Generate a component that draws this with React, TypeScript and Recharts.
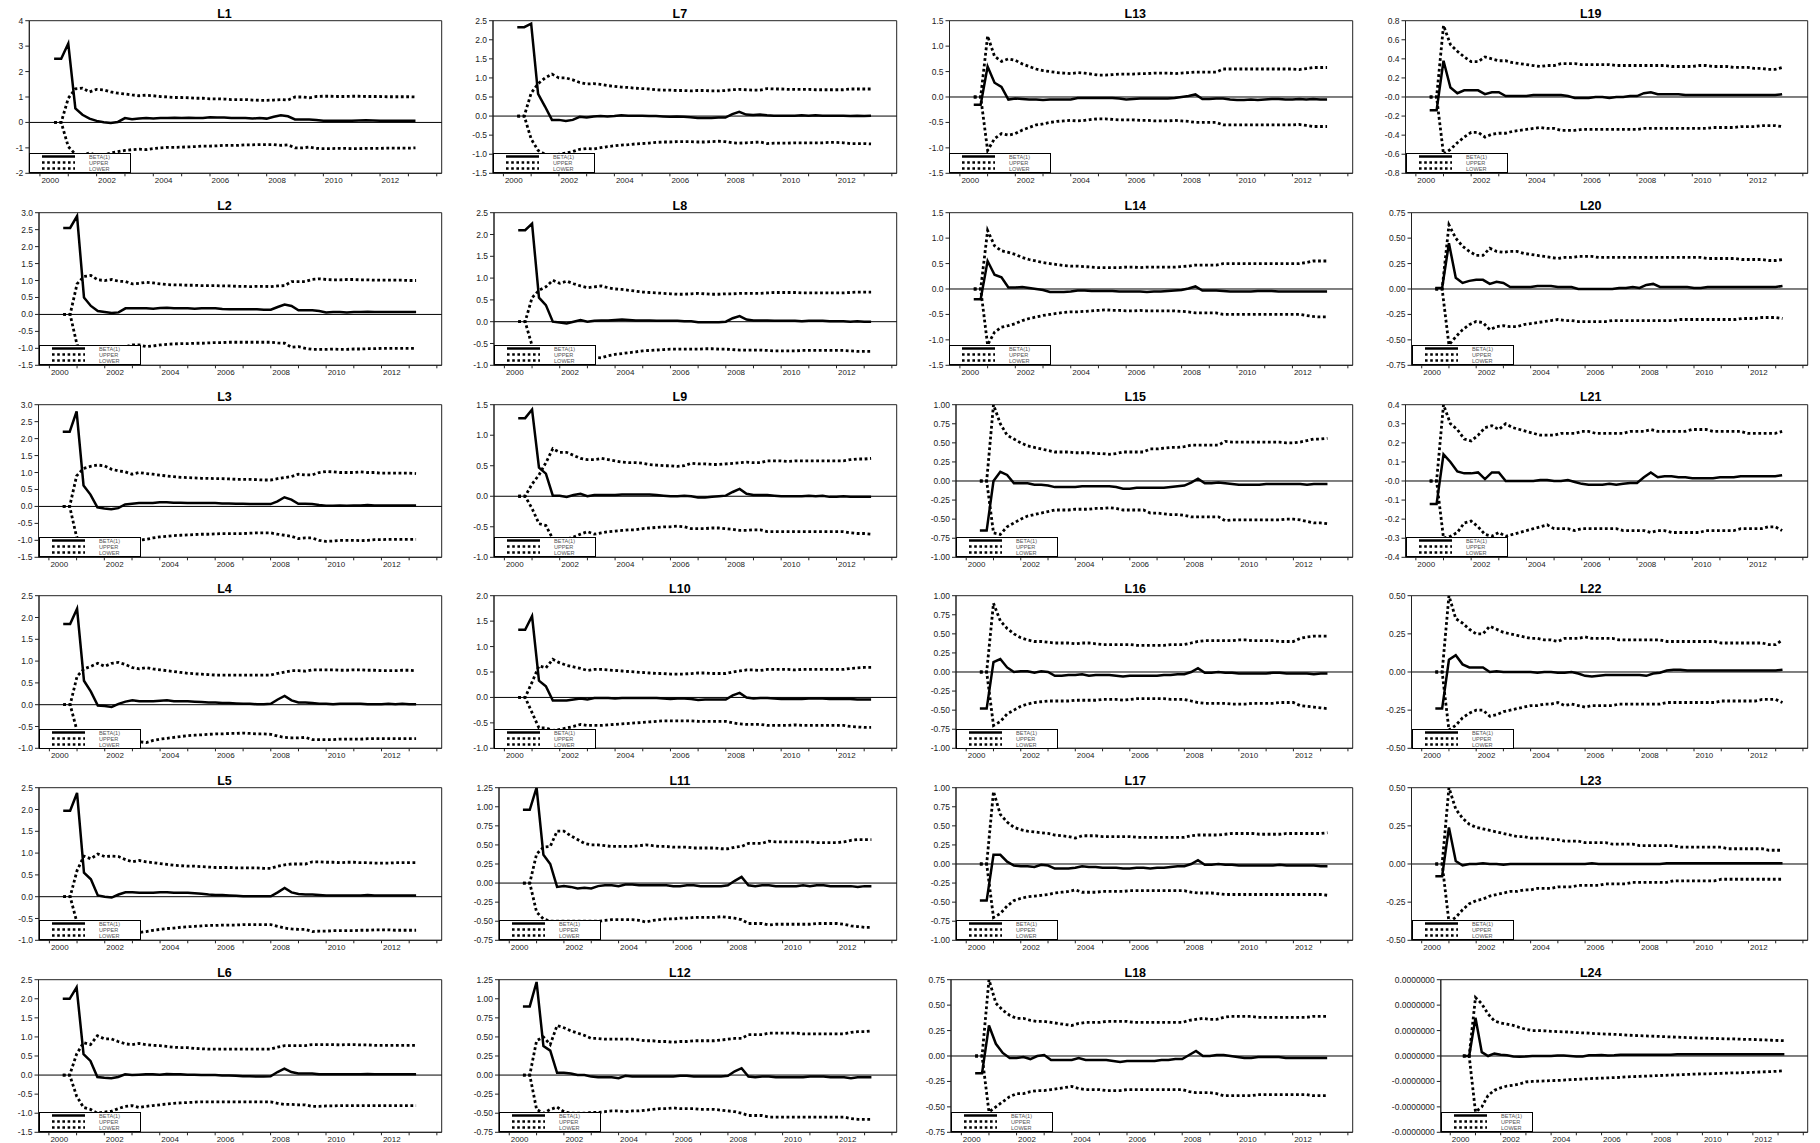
// Rolling BETA(1) estimates with UPPER / LOWER bands for 24 series (L1..L24),
// laid out 4 columns x 6 rows like the original RATS export.

import { Legend, Line, LineChart, ReferenceArea, ReferenceLine, XAxis, YAxis } from "recharts";

const FONT = "'Liberation Sans', Arial, Helvetica, sans-serif";

// quarter index 0 = first estimate; year boundaries sit two quarters before each Q1 point
const YEAR_TICKS = [-2, 2, 6, 10, 14, 18, 22, 26, 30, 34, 38, 42, 46, 50, 54];
const YEAR_LABELS = ["2000", "", "2002", "", "2004", "", "2006", "", "2008", "", "2010", "", "2012", "", ""];
const X_DOMAIN: [number, number] = [-3.5, 54.7];

const SERIES = [
  { key: "beta", name: "BETA(1)", dotted: false },
  { key: "upper", name: "UPPER", dotted: true },
  { key: "lower", name: "LOWER", dotted: true },
];

// y tick sets
const R_2_4 = [-2, -1, 0, 1, 2, 3, 4];
const R_15_30 = [-1.5, -1, -0.5, 0, 0.5, 1, 1.5, 2, 2.5, 3];
const R_10_25 = [-1, -0.5, 0, 0.5, 1, 1.5, 2, 2.5];
const R_15_25 = [-1.5, -1, -0.5, 0, 0.5, 1, 1.5, 2, 2.5];
const R_10_15 = [-1, -0.5, 0, 0.5, 1, 1.5];
const R_10_20 = [-1, -0.5, 0, 0.5, 1, 1.5, 2];
const R_075_125 = [-0.75, -0.5, -0.25, 0, 0.25, 0.5, 0.75, 1, 1.25];
const R_15_15 = [-1.5, -1, -0.5, 0, 0.5, 1, 1.5];
const R_100_100 = [-1, -0.75, -0.5, -0.25, 0, 0.25, 0.5, 0.75, 1];
const R_075_075 = [-0.75, -0.5, -0.25, 0, 0.25, 0.5, 0.75];
const R_08_08 = [-0.8, -0.6, -0.4, -0.2, 0, 0.2, 0.4, 0.6, 0.8];
const R_04_04 = [-0.4, -0.3, -0.2, -0.1, 0, 0.1, 0.2, 0.3, 0.4];
const R_050_050 = [-0.5, -0.25, 0, 0.25, 0.5];
const R_3_3 = [-3, -2, -1, 0, 1, 2, 3];

// ---- series values (52 quarters each) ----
const L1_BETA = [2.5, 2.5, 3.1, 0.55, 0.3, 0.15, 0.06, 0.01, -0.02, 0.02, 0.17, 0.13, 0.15,
  0.17, 0.15, 0.17, 0.17, 0.18, 0.17, 0.18, 0.17, 0.17, 0.2, 0.19, 0.19, 0.17,
  0.17, 0.17, 0.15, 0.17, 0.15, 0.22, 0.28, 0.24, 0.12, 0.12, 0.12, 0.1, 0.07,
  0.07, 0.07, 0.07, 0.07, 0.08, 0.09, 0.08, 0.07, 0.07, 0.07, 0.07, 0.07, 0.07];
const L1_UPPER = [0, 0, 0.95, 1.32, 1.35, 1.2, 1.3, 1.28, 1.2, 1.15, 1.12, 1.08, 1.05,
  1.07, 1.05, 1.02, 1.0, 0.98, 0.98, 0.97, 0.95, 0.95, 0.93, 0.93, 0.92, 0.9,
  0.9, 0.9, 0.88, 0.87, 0.87, 0.88, 0.9, 0.88, 1.0, 1.0, 0.97, 1.02, 1.03,
  1.03, 1.02, 1.02, 1.03, 1.03, 1.02, 1.02, 1.02, 1.01, 1.01, 1.01, 1.01, 1.0];
const L1_LOWER = [0, 0, -0.95, -1.25, -1.3, -1.2, -1.3, -1.28, -1.2, -1.15, -1.1, -1.07, -1.05,
  -1.07, -1.03, -1.0, -0.98, -0.98, -0.97, -0.96, -0.95, -0.93, -0.93, -0.92, -0.9, -0.9,
  -0.9, -0.88, -0.88, -0.87, -0.87, -0.87, -0.9, -0.88, -1.0, -1.0, -0.97, -1.02, -1.03,
  -1.03, -1.02, -1.02, -1.03, -1.03, -1.02, -1.02, -1.02, -1.01, -1.01, -1.01, -1.01, -1.0];

const L2_BETA = [2.55, 2.55, 2.9, 0.5, 0.25, 0.1, 0.07, 0.04, 0.06, 0.18, 0.18, 0.18, 0.18,
  0.17, 0.19, 0.2, 0.18, 0.18, 0.18, 0.17, 0.18, 0.18, 0.18, 0.16, 0.15, 0.15,
  0.15, 0.15, 0.15, 0.14, 0.14, 0.22, 0.29, 0.25, 0.12, 0.12, 0.12, 0.1, 0.06,
  0.07, 0.07, 0.06, 0.07, 0.07, 0.08, 0.07, 0.07, 0.07, 0.07, 0.07, 0.07, 0.07];
const L2_UPPER = [0, 0, 0.9, 1.12, 1.15, 1.02, 1.0, 1.03, 0.98, 0.97, 0.9, 0.92, 0.95,
  0.93, 0.9, 0.88, 0.87, 0.87, 0.86, 0.86, 0.85, 0.85, 0.85, 0.84, 0.84, 0.83,
  0.83, 0.82, 0.83, 0.83, 0.82, 0.84, 0.85, 0.97, 0.97, 0.97, 1.03, 1.05, 1.03,
  1.02, 1.02, 1.03, 1.03, 1.02, 1.02, 1.01, 1.01, 1.01, 1.01, 1.01, 1.0, 1.0];
const L2_LOWER = [0, 0, -0.9, -1.1, -1.1, -1.0, -1.0, -1.0, -0.97, -0.95, -0.9, -0.9, -0.95,
  -0.93, -0.9, -0.88, -0.87, -0.86, -0.86, -0.85, -0.85, -0.84, -0.83, -0.83, -0.82, -0.82,
  -0.82, -0.82, -0.82, -0.82, -0.82, -0.84, -0.85, -0.97, -0.95, -1.0, -1.03, -1.03, -1.03,
  -1.02, -1.03, -1.03, -1.02, -1.02, -1.01, -1.01, -1.0, -1.0, -1.0, -1.0, -1.0, -1.0];

const L3_BETA = [2.2, 2.2, 2.8, 0.62, 0.35, -0.03, -0.06, -0.08, -0.05, 0.06, 0.08, 0.1, 0.1,
  0.1, 0.12, 0.12, 0.11, 0.11, 0.1, 0.1, 0.1, 0.1, 0.1, 0.09, 0.09, 0.08,
  0.08, 0.07, 0.07, 0.07, 0.07, 0.15, 0.27, 0.2, 0.08, 0.08, 0.07, 0.04, 0.02,
  0.02, 0.03, 0.02, 0.03, 0.03, 0.04, 0.03, 0.03, 0.03, 0.03, 0.03, 0.03, 0.03];
const L3_UPPER = [0, 0, 0.9, 1.12, 1.18, 1.22, 1.2, 1.1, 1.05, 1.02, 0.95, 1.0, 0.97,
  0.95, 0.92, 0.9, 0.88, 0.86, 0.85, 0.84, 0.83, 0.83, 0.82, 0.82, 0.81, 0.8,
  0.8, 0.8, 0.79, 0.78, 0.78, 0.82, 0.85, 0.88, 0.95, 0.93, 0.93, 1.0, 1.03,
  1.02, 1.0, 1.0, 1.0, 1.02, 1.0, 1.0, 0.98, 0.98, 0.98, 0.98, 0.98, 0.97];
const L3_LOWER = [0, 0, -0.9, -1.1, -1.15, -1.2, -1.15, -1.1, -1.05, -1.0, -0.95, -1.0, -0.97,
  -0.93, -0.9, -0.88, -0.86, -0.85, -0.84, -0.83, -0.82, -0.82, -0.81, -0.8, -0.8, -0.8,
  -0.8, -0.79, -0.78, -0.78, -0.78, -0.82, -0.85, -0.88, -0.95, -0.93, -0.93, -1.0, -1.03,
  -1.02, -1.0, -1.0, -1.0, -1.01, -1.0, -0.98, -0.98, -0.97, -0.97, -0.97, -0.97, -0.97];

const L4_BETA = [1.85, 1.85, 2.2, 0.55, 0.3, -0.02, -0.03, -0.05, 0.02, 0.07, 0.1, 0.08, 0.08,
  0.08, 0.09, 0.1, 0.08, 0.08, 0.08, 0.07, 0.06, 0.05, 0.05, 0.04, 0.04, 0.03,
  0.02, 0.02, 0.01, 0.01, 0.02, 0.12, 0.2, 0.1, 0.05, 0.05, 0.04, 0.02, 0.02,
  0.01, 0.02, 0.02, 0.02, 0.02, 0.01, 0.01, 0.01, 0.02, 0.01, 0.02, 0.01, 0.01];
const L4_UPPER = [0, 0, 0.65, 0.82, 0.88, 0.95, 0.88, 0.95, 0.97, 0.92, 0.85, 0.82, 0.85,
  0.82, 0.8, 0.78, 0.76, 0.74, 0.72, 0.71, 0.7, 0.69, 0.68, 0.68, 0.68, 0.68,
  0.68, 0.68, 0.68, 0.68, 0.68, 0.72, 0.75, 0.78, 0.78, 0.77, 0.8, 0.8, 0.8,
  0.8, 0.79, 0.79, 0.8, 0.8, 0.79, 0.79, 0.78, 0.78, 0.78, 0.79, 0.79, 0.78];
const L4_LOWER = [0, 0, -0.6, -0.8, -0.85, -0.9, -0.88, -0.9, -0.9, -0.9, -0.87, -0.85, -0.87,
  -0.82, -0.79, -0.77, -0.75, -0.73, -0.71, -0.7, -0.69, -0.68, -0.67, -0.67, -0.66, -0.66,
  -0.65, -0.66, -0.67, -0.67, -0.68, -0.72, -0.75, -0.76, -0.76, -0.75, -0.8, -0.8, -0.8,
  -0.8, -0.79, -0.79, -0.79, -0.79, -0.78, -0.78, -0.78, -0.78, -0.78, -0.78, -0.78, -0.78];

const L5_BETA = [1.97, 1.97, 2.38, 0.55, 0.4, 0.03, 0.0, -0.02, 0.05, 0.1, 0.1, 0.09, 0.09,
  0.09, 0.1, 0.1, 0.09, 0.09, 0.09, 0.08, 0.07, 0.05, 0.04, 0.04, 0.03, 0.02,
  0.01, 0.01, 0.01, 0.01, 0.01, 0.1, 0.2, 0.1, 0.06, 0.05, 0.05, 0.04, 0.03,
  0.03, 0.03, 0.03, 0.03, 0.03, 0.04, 0.03, 0.03, 0.03, 0.03, 0.03, 0.03, 0.03];
const L5_UPPER = [0, 0, 0.6, 0.93, 0.87, 0.98, 0.92, 0.93, 0.92, 0.85, 0.8, 0.83, 0.8,
  0.78, 0.76, 0.74, 0.72, 0.71, 0.7, 0.7, 0.69, 0.68, 0.67, 0.67, 0.67, 0.66,
  0.66, 0.66, 0.66, 0.65, 0.65, 0.7, 0.73, 0.75, 0.75, 0.75, 0.8, 0.8, 0.79,
  0.79, 0.78, 0.79, 0.79, 0.78, 0.78, 0.77, 0.77, 0.77, 0.78, 0.78, 0.78, 0.78];
const L5_LOWER = [0, 0, -0.6, -0.8, -0.85, -0.9, -0.88, -0.87, -0.85, -0.83, -0.8, -0.82, -0.8,
  -0.77, -0.75, -0.73, -0.72, -0.7, -0.69, -0.68, -0.67, -0.66, -0.66, -0.65, -0.65, -0.65,
  -0.64, -0.64, -0.64, -0.64, -0.64, -0.68, -0.72, -0.74, -0.75, -0.75, -0.8, -0.79, -0.79,
  -0.78, -0.78, -0.78, -0.78, -0.77, -0.77, -0.76, -0.76, -0.76, -0.77, -0.77, -0.77, -0.77];

const L6_BETA = [2.0, 2.0, 2.3, 0.55, 0.37, -0.05, -0.07, -0.08, -0.05, 0.02, 0.0, 0.01, 0.02,
  0.02, 0.01, 0.03, 0.02, 0.02, 0.01, 0.01, 0.0, 0.0, 0.0, -0.01, -0.01, -0.02,
  -0.03, -0.03, -0.04, -0.04, -0.03, 0.08, 0.17, 0.08, 0.04, 0.04, 0.04, 0.02, 0.02,
  0.02, 0.02, 0.02, 0.02, 0.02, 0.03, 0.02, 0.02, 0.02, 0.02, 0.02, 0.02, 0.02];
const L6_UPPER = [0, 0, 0.55, 0.85, 0.8, 1.03, 0.95, 0.95, 0.88, 0.82, 0.8, 0.83, 0.8,
  0.78, 0.77, 0.75, 0.73, 0.72, 0.72, 0.7, 0.69, 0.68, 0.68, 0.68, 0.68, 0.68,
  0.68, 0.68, 0.68, 0.68, 0.68, 0.73, 0.77, 0.77, 0.77, 0.77, 0.8, 0.8, 0.8,
  0.8, 0.79, 0.8, 0.8, 0.79, 0.79, 0.78, 0.78, 0.78, 0.78, 0.78, 0.78, 0.78];
const L6_LOWER = [0, 0, -0.55, -0.85, -0.9, -1.0, -0.97, -0.95, -0.88, -0.82, -0.8, -0.85, -0.82,
  -0.8, -0.78, -0.76, -0.74, -0.73, -0.72, -0.71, -0.7, -0.7, -0.7, -0.7, -0.7, -0.7,
  -0.7, -0.7, -0.7, -0.7, -0.7, -0.74, -0.77, -0.77, -0.78, -0.78, -0.82, -0.82, -0.81,
  -0.81, -0.8, -0.8, -0.8, -0.8, -0.8, -0.8, -0.8, -0.8, -0.8, -0.8, -0.8, -0.8];

const L7_BETA = [2.33, 2.33, 2.42, 0.58, 0.25, -0.1, -0.1, -0.13, -0.1, -0.02, -0.04, -0.01, 0.0,
  -0.01, 0.0, 0.02, 0.01, 0.01, 0.01, 0.0, 0.0, -0.01, -0.02, -0.01, -0.02, -0.03,
  -0.05, -0.05, -0.05, -0.04, -0.04, 0.05, 0.11, 0.04, 0.03, 0.04, 0.02, 0.01, 0.01,
  0.01, 0.01, 0.02, 0.01, 0.02, 0.01, 0.01, 0.01, 0.01, 0.0, 0.01, 0.0, 0.01];
const L7_UPPER = [0, 0, 0.6, 0.85, 1.0, 1.1, 1.0, 1.0, 0.95, 0.88, 0.84, 0.85, 0.83,
  0.8, 0.78, 0.76, 0.75, 0.73, 0.72, 0.71, 0.69, 0.68, 0.68, 0.67, 0.67, 0.66,
  0.67, 0.67, 0.66, 0.66, 0.67, 0.69, 0.7, 0.69, 0.68, 0.68, 0.72, 0.71, 0.71,
  0.7, 0.7, 0.7, 0.7, 0.69, 0.69, 0.69, 0.69, 0.69, 0.71, 0.71, 0.71, 0.71];
const L7_LOWER = [0, 0, -0.6, -0.9, -1.0, -1.05, -1.0, -0.97, -0.93, -0.87, -0.85, -0.86, -0.83,
  -0.8, -0.78, -0.76, -0.75, -0.73, -0.72, -0.71, -0.69, -0.68, -0.68, -0.67, -0.67, -0.67,
  -0.68, -0.68, -0.67, -0.66, -0.67, -0.7, -0.71, -0.7, -0.69, -0.68, -0.72, -0.71, -0.71,
  -0.71, -0.7, -0.7, -0.7, -0.7, -0.7, -0.69, -0.69, -0.7, -0.72, -0.72, -0.72, -0.73];

const L8_BETA = [2.1, 2.1, 2.25, 0.55, 0.38, 0.0, -0.02, -0.04, 0.0, 0.04, 0.0, 0.02, 0.03,
  0.03, 0.04, 0.05, 0.04, 0.03, 0.03, 0.03, 0.02, 0.02, 0.02, 0.02, 0.01, 0.01,
  -0.01, -0.01, -0.01, -0.01, 0.0, 0.08, 0.13, 0.05, 0.03, 0.03, 0.03, 0.02, 0.02,
  0.02, 0.02, 0.01, 0.02, 0.02, 0.02, 0.01, 0.01, 0.01, 0.0, 0.01, 0.0, 0.0];
const L8_UPPER = [0, 0, 0.55, 0.72, 0.8, 0.95, 0.88, 0.93, 0.87, 0.82, 0.78, 0.8, 0.82,
  0.78, 0.75, 0.74, 0.72, 0.7, 0.68, 0.67, 0.66, 0.65, 0.64, 0.63, 0.63, 0.64,
  0.65, 0.64, 0.63, 0.63, 0.64, 0.64, 0.65, 0.65, 0.65, 0.65, 0.66, 0.67, 0.67,
  0.67, 0.67, 0.66, 0.66, 0.66, 0.66, 0.66, 0.66, 0.66, 0.67, 0.68, 0.68, 0.68];
const L8_LOWER = [0, 0, -0.55, -0.72, -0.8, -0.85, -0.85, -0.85, -0.83, -0.82, -0.8, -0.82, -0.83,
  -0.78, -0.75, -0.73, -0.71, -0.69, -0.67, -0.66, -0.65, -0.64, -0.63, -0.63, -0.63, -0.63,
  -0.63, -0.62, -0.62, -0.63, -0.63, -0.64, -0.65, -0.65, -0.65, -0.65, -0.66, -0.67, -0.67,
  -0.67, -0.67, -0.66, -0.66, -0.66, -0.66, -0.66, -0.66, -0.66, -0.67, -0.68, -0.68, -0.68];

const L9_BETA = [1.28, 1.28, 1.42, 0.47, 0.37, 0.01, 0.01, -0.01, 0.02, 0.04, 0.0, 0.02, 0.02,
  0.02, 0.02, 0.03, 0.03, 0.03, 0.03, 0.03, 0.02, 0.01, 0.0, 0.0, 0.01, 0.0,
  -0.02, -0.02, -0.01, 0.0, 0.01, 0.07, 0.12, 0.04, 0.02, 0.02, 0.02, 0.01, 0.0,
  0.0, 0.0, 0.0, 0.01, 0.0, 0.01, -0.01, -0.01, 0.0, -0.01, -0.01, -0.01, -0.01];
const L9_UPPER = [0, 0, 0.2, 0.35, 0.55, 0.78, 0.72, 0.72, 0.67, 0.62, 0.6, 0.6, 0.62,
  0.6, 0.58, 0.56, 0.55, 0.55, 0.54, 0.52, 0.51, 0.5, 0.5, 0.49, 0.5, 0.54,
  0.53, 0.53, 0.52, 0.52, 0.53, 0.54, 0.55, 0.56, 0.55, 0.55, 0.58, 0.58, 0.58,
  0.57, 0.58, 0.58, 0.58, 0.58, 0.58, 0.58, 0.58, 0.58, 0.6, 0.61, 0.61, 0.62];
const L9_LOWER = [0, 0, -0.2, -0.45, -0.48, -0.7, -0.72, -0.7, -0.67, -0.62, -0.58, -0.62, -0.6,
  -0.58, -0.57, -0.56, -0.55, -0.55, -0.53, -0.52, -0.51, -0.5, -0.5, -0.49, -0.5, -0.53,
  -0.53, -0.53, -0.52, -0.52, -0.53, -0.54, -0.56, -0.56, -0.55, -0.55, -0.58, -0.58, -0.58,
  -0.58, -0.58, -0.58, -0.58, -0.58, -0.58, -0.58, -0.58, -0.58, -0.6, -0.61, -0.61, -0.62];

const L10_BETA = [1.33, 1.33, 1.6, 0.33, 0.22, -0.06, -0.06, -0.06, -0.04, -0.02, -0.04, -0.01, -0.01,
  -0.01, -0.02, -0.01, -0.01, -0.01, -0.01, -0.01, -0.01, -0.02, -0.03, -0.02, -0.02, -0.03,
  -0.05, -0.04, -0.04, -0.04, -0.04, 0.04, 0.09, 0.0, -0.02, -0.01, -0.01, -0.02, -0.03,
  -0.03, -0.03, -0.03, -0.02, -0.02, -0.02, -0.03, -0.03, -0.03, -0.03, -0.04, -0.04, -0.04];
const L10_UPPER = [0, 0, 0.3, 0.62, 0.58, 0.75, 0.68, 0.63, 0.6, 0.57, 0.53, 0.55, 0.55,
  0.54, 0.53, 0.52, 0.51, 0.5, 0.49, 0.48, 0.47, 0.47, 0.46, 0.46, 0.46, 0.47,
  0.48, 0.48, 0.47, 0.47, 0.47, 0.5, 0.52, 0.54, 0.54, 0.53, 0.55, 0.55, 0.55,
  0.55, 0.54, 0.55, 0.55, 0.55, 0.55, 0.55, 0.55, 0.55, 0.57, 0.58, 0.59, 0.59];
const L10_LOWER = [0, 0, -0.3, -0.6, -0.6, -0.65, -0.63, -0.6, -0.57, -0.53, -0.55, -0.55, -0.55,
  -0.54, -0.53, -0.52, -0.51, -0.5, -0.49, -0.48, -0.47, -0.46, -0.46, -0.46, -0.46, -0.46,
  -0.47, -0.47, -0.47, -0.47, -0.47, -0.5, -0.52, -0.53, -0.53, -0.53, -0.55, -0.55, -0.55,
  -0.55, -0.54, -0.55, -0.55, -0.55, -0.55, -0.55, -0.55, -0.55, -0.57, -0.58, -0.59, -0.59];

const L11_BETA = [0.96, 0.96, 1.25, 0.37, 0.25, -0.05, -0.04, -0.05, -0.07, -0.06, -0.07, -0.04, -0.03,
  -0.03, -0.04, -0.02, -0.02, -0.03, -0.03, -0.03, -0.03, -0.03, -0.04, -0.04, -0.03, -0.03,
  -0.04, -0.04, -0.04, -0.04, -0.03, 0.03, 0.08, -0.03, -0.04, -0.03, -0.03, -0.04, -0.04,
  -0.04, -0.04, -0.03, -0.04, -0.03, -0.03, -0.04, -0.04, -0.04, -0.04, -0.05, -0.04, -0.04];
const L11_UPPER = [0, 0, 0.38, 0.47, 0.48, 0.68, 0.68, 0.62, 0.57, 0.52, 0.5, 0.5, 0.49,
  0.48, 0.48, 0.48, 0.48, 0.49, 0.5, 0.49, 0.48, 0.48, 0.47, 0.47, 0.47, 0.46,
  0.46, 0.46, 0.46, 0.45, 0.45, 0.47, 0.48, 0.52, 0.52, 0.52, 0.55, 0.54, 0.54,
  0.54, 0.54, 0.54, 0.54, 0.53, 0.53, 0.53, 0.53, 0.54, 0.56, 0.57, 0.57, 0.57];
const L11_LOWER = [0, 0, -0.38, -0.47, -0.5, -0.5, -0.5, -0.5, -0.5, -0.5, -0.5, -0.5, -0.49,
  -0.48, -0.48, -0.48, -0.48, -0.49, -0.51, -0.49, -0.48, -0.47, -0.47, -0.46, -0.46, -0.45,
  -0.45, -0.45, -0.45, -0.44, -0.45, -0.46, -0.48, -0.53, -0.53, -0.53, -0.55, -0.54, -0.54,
  -0.54, -0.54, -0.54, -0.54, -0.53, -0.53, -0.53, -0.53, -0.54, -0.56, -0.57, -0.58, -0.58];

const L12_BETA = [0.9, 0.9, 1.22, 0.38, 0.32, 0.03, 0.03, 0.02, 0.0, 0.0, -0.02, -0.03, -0.03,
  -0.03, -0.04, -0.01, -0.02, -0.02, -0.02, -0.02, -0.02, -0.02, -0.02, -0.01, -0.01, -0.02,
  -0.02, -0.02, -0.02, -0.02, -0.01, 0.05, 0.09, -0.02, -0.03, -0.02, -0.02, -0.03, -0.03,
  -0.03, -0.03, -0.03, -0.02, -0.02, -0.02, -0.03, -0.03, -0.03, -0.04, -0.03, -0.03, -0.03];
const L12_UPPER = [0, 0, 0.45, 0.5, 0.4, 0.65, 0.62, 0.58, 0.55, 0.52, 0.48, 0.48, 0.47,
  0.47, 0.47, 0.47, 0.47, 0.46, 0.45, 0.45, 0.44, 0.44, 0.43, 0.44, 0.44, 0.45,
  0.45, 0.45, 0.45, 0.46, 0.47, 0.48, 0.48, 0.53, 0.53, 0.53, 0.55, 0.55, 0.55,
  0.55, 0.55, 0.54, 0.54, 0.54, 0.54, 0.54, 0.54, 0.54, 0.56, 0.57, 0.57, 0.58];
const L12_LOWER = [0, 0, -0.45, -0.5, -0.45, -0.42, -0.48, -0.5, -0.5, -0.5, -0.49, -0.49, -0.48,
  -0.47, -0.47, -0.48, -0.47, -0.47, -0.46, -0.45, -0.44, -0.44, -0.43, -0.44, -0.44, -0.44,
  -0.45, -0.45, -0.45, -0.46, -0.47, -0.48, -0.5, -0.53, -0.53, -0.53, -0.55, -0.55, -0.55,
  -0.55, -0.55, -0.55, -0.55, -0.55, -0.55, -0.55, -0.55, -0.55, -0.57, -0.58, -0.58, -0.58];

const L13_BETA = [-0.15, -0.15, 0.6, 0.28, 0.2, -0.05, -0.03, -0.04, -0.05, -0.05, -0.06, -0.05, -0.05,
  -0.05, -0.05, -0.02, -0.02, -0.02, -0.02, -0.02, -0.02, -0.03, -0.05, -0.04, -0.03, -0.03,
  -0.03, -0.03, -0.03, -0.02, 0.0, 0.02, 0.05, -0.04, -0.04, -0.03, -0.03, -0.05, -0.06,
  -0.06, -0.05, -0.06, -0.05, -0.04, -0.04, -0.05, -0.05, -0.04, -0.05, -0.04, -0.05, -0.05];
const L13_UPPER = [0, 0, 1.2, 0.8, 0.7, 0.75, 0.72, 0.65, 0.6, 0.55, 0.52, 0.5, 0.48,
  0.47, 0.46, 0.48, 0.47, 0.45, 0.43, 0.43, 0.44, 0.45, 0.45, 0.45, 0.46, 0.46,
  0.47, 0.47, 0.47, 0.46, 0.47, 0.48, 0.49, 0.49, 0.49, 0.49, 0.55, 0.55, 0.55,
  0.55, 0.55, 0.55, 0.55, 0.55, 0.55, 0.55, 0.55, 0.54, 0.56, 0.58, 0.58, 0.58];
const L13_LOWER = [0, 0, -1.05, -0.82, -0.72, -0.75, -0.72, -0.65, -0.6, -0.55, -0.53, -0.5, -0.48,
  -0.47, -0.46, -0.47, -0.46, -0.44, -0.43, -0.43, -0.44, -0.45, -0.45, -0.45, -0.46, -0.46,
  -0.47, -0.47, -0.47, -0.46, -0.47, -0.48, -0.5, -0.5, -0.5, -0.5, -0.55, -0.55, -0.55,
  -0.55, -0.55, -0.55, -0.55, -0.55, -0.55, -0.55, -0.55, -0.54, -0.56, -0.58, -0.58, -0.58];

const L14_BETA = [-0.2, -0.2, 0.55, 0.28, 0.23, 0.03, 0.03, 0.04, 0.02, 0.0, -0.02, -0.06, -0.06,
  -0.06, -0.05, -0.03, -0.03, -0.04, -0.04, -0.04, -0.04, -0.05, -0.05, -0.05, -0.05, -0.06,
  -0.05, -0.05, -0.04, -0.03, -0.02, 0.01, 0.05, -0.03, -0.03, -0.03, -0.04, -0.05, -0.05,
  -0.05, -0.05, -0.04, -0.04, -0.04, -0.05, -0.05, -0.05, -0.05, -0.05, -0.05, -0.05, -0.05];
const L14_UPPER = [0, 0, 1.15, 0.85, 0.75, 0.72, 0.68, 0.62, 0.58, 0.55, 0.52, 0.5, 0.48,
  0.46, 0.45, 0.45, 0.44, 0.43, 0.42, 0.42, 0.42, 0.42, 0.43, 0.43, 0.42, 0.43,
  0.43, 0.43, 0.43, 0.43, 0.44, 0.45, 0.47, 0.47, 0.47, 0.47, 0.5, 0.5, 0.5,
  0.5, 0.5, 0.5, 0.5, 0.5, 0.5, 0.5, 0.5, 0.5, 0.52, 0.55, 0.55, 0.55];
const L14_LOWER = [0, 0, -1.1, -0.85, -0.75, -0.72, -0.68, -0.62, -0.58, -0.55, -0.52, -0.5, -0.48,
  -0.46, -0.45, -0.45, -0.44, -0.43, -0.42, -0.41, -0.42, -0.42, -0.43, -0.43, -0.42, -0.43,
  -0.43, -0.43, -0.43, -0.43, -0.44, -0.45, -0.47, -0.47, -0.47, -0.47, -0.5, -0.5, -0.5,
  -0.5, -0.5, -0.5, -0.5, -0.5, -0.5, -0.5, -0.5, -0.5, -0.52, -0.54, -0.55, -0.55];

const L15_BETA = [-0.65, -0.65, 0.0, 0.12, 0.08, -0.03, -0.03, -0.03, -0.05, -0.05, -0.06, -0.08, -0.08,
  -0.08, -0.08, -0.07, -0.07, -0.07, -0.07, -0.07, -0.08, -0.1, -0.1, -0.09, -0.09, -0.09,
  -0.09, -0.09, -0.08, -0.07, -0.06, -0.02, 0.03, -0.03, -0.03, -0.02, -0.03, -0.04, -0.05,
  -0.05, -0.05, -0.05, -0.04, -0.04, -0.04, -0.04, -0.04, -0.04, -0.05, -0.04, -0.04, -0.04];
const L15_UPPER = [0, 0, 1.0, 0.75, 0.6, 0.55, 0.5, 0.46, 0.44, 0.42, 0.4, 0.38, 0.38,
  0.38, 0.37, 0.37, 0.37, 0.36, 0.36, 0.35, 0.36, 0.38, 0.38, 0.38, 0.38, 0.42,
  0.42, 0.43, 0.44, 0.44, 0.45, 0.47, 0.47, 0.47, 0.47, 0.47, 0.52, 0.51, 0.51,
  0.51, 0.51, 0.51, 0.51, 0.51, 0.51, 0.5, 0.5, 0.51, 0.53, 0.55, 0.55, 0.56];
const L15_LOWER = [0, 0, -0.68, -0.7, -0.6, -0.55, -0.5, -0.46, -0.44, -0.42, -0.4, -0.38, -0.38,
  -0.38, -0.37, -0.37, -0.37, -0.36, -0.36, -0.35, -0.36, -0.38, -0.38, -0.38, -0.38, -0.42,
  -0.42, -0.43, -0.44, -0.44, -0.45, -0.47, -0.47, -0.47, -0.47, -0.47, -0.52, -0.51, -0.51,
  -0.51, -0.51, -0.51, -0.51, -0.51, -0.51, -0.5, -0.5, -0.51, -0.53, -0.55, -0.55, -0.56];

const L16_BETA = [-0.48, -0.48, 0.13, 0.17, 0.06, 0.0, 0.01, 0.01, -0.01, 0.01, 0.0, -0.05, -0.05,
  -0.04, -0.04, -0.03, -0.05, -0.04, -0.04, -0.04, -0.05, -0.06, -0.05, -0.05, -0.05, -0.05,
  -0.05, -0.04, -0.04, -0.03, -0.03, 0.0, 0.05, -0.01, -0.01, 0.0, -0.01, -0.01, -0.02,
  -0.02, -0.02, -0.02, -0.02, -0.01, -0.01, -0.02, -0.02, -0.02, -0.02, -0.03, -0.02, -0.02];
const L16_UPPER = [0, 0, 0.9, 0.67, 0.57, 0.5, 0.45, 0.42, 0.4, 0.4, 0.39, 0.38, 0.38,
  0.38, 0.37, 0.38, 0.38, 0.37, 0.36, 0.36, 0.36, 0.36, 0.36, 0.35, 0.35, 0.35,
  0.35, 0.35, 0.36, 0.36, 0.36, 0.38, 0.4, 0.41, 0.41, 0.41, 0.41, 0.41, 0.42,
  0.42, 0.41, 0.41, 0.41, 0.41, 0.4, 0.4, 0.4, 0.44, 0.46, 0.47, 0.47, 0.47];
const L16_LOWER = [0, 0, -0.7, -0.65, -0.55, -0.5, -0.45, -0.42, -0.4, -0.39, -0.38, -0.38, -0.38,
  -0.38, -0.37, -0.37, -0.37, -0.37, -0.36, -0.36, -0.36, -0.37, -0.36, -0.35, -0.35, -0.35,
  -0.35, -0.35, -0.36, -0.36, -0.36, -0.38, -0.4, -0.41, -0.41, -0.41, -0.41, -0.42, -0.42,
  -0.42, -0.41, -0.41, -0.41, -0.41, -0.4, -0.4, -0.4, -0.44, -0.45, -0.46, -0.47, -0.48];

const L17_BETA = [-0.48, -0.48, 0.12, 0.12, 0.03, -0.02, -0.03, -0.03, -0.04, -0.01, -0.02, -0.06, -0.06,
  -0.06, -0.05, -0.03, -0.04, -0.04, -0.05, -0.05, -0.05, -0.06, -0.06, -0.05, -0.05, -0.06,
  -0.05, -0.05, -0.04, -0.03, -0.03, 0.0, 0.05, -0.01, -0.01, 0.0, -0.01, -0.01, -0.02,
  -0.02, -0.02, -0.02, -0.02, -0.02, -0.01, -0.02, -0.02, -0.02, -0.02, -0.02, -0.03, -0.03];
const L17_UPPER = [0, 0, 0.95, 0.65, 0.55, 0.48, 0.45, 0.43, 0.42, 0.41, 0.4, 0.38, 0.37,
  0.36, 0.34, 0.37, 0.37, 0.37, 0.36, 0.36, 0.36, 0.36, 0.36, 0.35, 0.35, 0.35,
  0.35, 0.35, 0.35, 0.35, 0.35, 0.37, 0.38, 0.38, 0.38, 0.38, 0.39, 0.4, 0.4,
  0.4, 0.4, 0.39, 0.39, 0.39, 0.39, 0.4, 0.4, 0.4, 0.4, 0.4, 0.4, 0.41];
const L17_LOWER = [0, 0, -0.7, -0.65, -0.55, -0.48, -0.45, -0.43, -0.42, -0.41, -0.4, -0.38, -0.37,
  -0.36, -0.34, -0.37, -0.37, -0.37, -0.36, -0.36, -0.36, -0.36, -0.35, -0.35, -0.35, -0.35,
  -0.35, -0.35, -0.35, -0.35, -0.35, -0.37, -0.38, -0.38, -0.38, -0.39, -0.4, -0.4, -0.4,
  -0.4, -0.4, -0.4, -0.4, -0.4, -0.4, -0.4, -0.4, -0.4, -0.4, -0.4, -0.4, -0.41];

const L18_BETA = [-0.17, -0.17, 0.3, 0.12, 0.03, -0.02, -0.02, -0.01, -0.03, 0.0, 0.01, -0.04, -0.04,
  -0.04, -0.04, -0.02, -0.04, -0.04, -0.04, -0.04, -0.05, -0.06, -0.05, -0.05, -0.05, -0.05,
  -0.05, -0.04, -0.04, -0.03, -0.03, 0.01, 0.05, 0.0, 0.0, 0.01, 0.01, 0.0, -0.01,
  -0.02, -0.02, -0.01, -0.01, -0.01, -0.01, -0.02, -0.02, -0.02, -0.02, -0.02, -0.02, -0.02];
const L18_UPPER = [0, 0, 0.75, 0.52, 0.45, 0.4, 0.37, 0.37, 0.35, 0.34, 0.34, 0.33, 0.32,
  0.31, 0.3, 0.32, 0.33, 0.33, 0.33, 0.34, 0.34, 0.34, 0.34, 0.33, 0.33, 0.33,
  0.33, 0.33, 0.33, 0.33, 0.33, 0.35, 0.36, 0.37, 0.36, 0.36, 0.38, 0.39, 0.39,
  0.39, 0.39, 0.38, 0.38, 0.38, 0.38, 0.38, 0.38, 0.38, 0.38, 0.39, 0.39, 0.39];
const L18_LOWER = [0, 0, -0.55, -0.5, -0.45, -0.4, -0.37, -0.37, -0.35, -0.34, -0.34, -0.33, -0.32,
  -0.31, -0.3, -0.32, -0.33, -0.33, -0.33, -0.34, -0.34, -0.34, -0.33, -0.33, -0.33, -0.33,
  -0.33, -0.33, -0.33, -0.33, -0.33, -0.35, -0.36, -0.36, -0.36, -0.37, -0.39, -0.39, -0.39,
  -0.39, -0.39, -0.38, -0.38, -0.38, -0.38, -0.38, -0.38, -0.38, -0.38, -0.39, -0.39, -0.39];

const L19_BETA = [-0.14, -0.14, 0.38, 0.1, 0.04, 0.07, 0.07, 0.07, 0.03, 0.05, 0.05, 0.01, 0.01,
  0.01, 0.01, 0.02, 0.02, 0.02, 0.02, 0.02, 0.01, -0.01, -0.01, -0.01, 0.0, 0.0,
  -0.01, 0.0, 0.0, 0.01, 0.01, 0.04, 0.05, 0.03, 0.03, 0.03, 0.03, 0.02, 0.02,
  0.02, 0.02, 0.02, 0.02, 0.02, 0.02, 0.02, 0.02, 0.02, 0.02, 0.02, 0.02, 0.03];
const L19_UPPER = [0, 0, 0.75, 0.55, 0.48, 0.42, 0.37, 0.37, 0.42, 0.4, 0.38, 0.38, 0.36,
  0.35, 0.34, 0.33, 0.32, 0.33, 0.33, 0.35, 0.35, 0.35, 0.34, 0.34, 0.34, 0.34,
  0.34, 0.33, 0.33, 0.33, 0.33, 0.33, 0.33, 0.33, 0.33, 0.32, 0.32, 0.32, 0.32,
  0.33, 0.33, 0.32, 0.32, 0.32, 0.31, 0.31, 0.31, 0.3, 0.3, 0.29, 0.29, 0.31];
const L19_LOWER = [0, 0, -0.6, -0.55, -0.48, -0.42, -0.37, -0.37, -0.42, -0.39, -0.38, -0.38, -0.36,
  -0.35, -0.34, -0.33, -0.32, -0.33, -0.33, -0.35, -0.35, -0.35, -0.34, -0.34, -0.34, -0.34,
  -0.34, -0.34, -0.34, -0.34, -0.34, -0.33, -0.33, -0.33, -0.33, -0.33, -0.33, -0.33, -0.33,
  -0.33, -0.33, -0.32, -0.32, -0.32, -0.32, -0.31, -0.31, -0.31, -0.3, -0.3, -0.3, -0.31];

const L20_BETA = [0.01, 0.01, 0.45, 0.11, 0.06, 0.08, 0.09, 0.09, 0.05, 0.07, 0.06, 0.02, 0.02,
  0.02, 0.02, 0.03, 0.03, 0.03, 0.02, 0.02, 0.02, 0.0, 0.0, 0.0, 0.0, 0.0,
  0.0, 0.01, 0.01, 0.02, 0.01, 0.04, 0.05, 0.02, 0.02, 0.02, 0.02, 0.02, 0.01,
  0.01, 0.02, 0.02, 0.02, 0.02, 0.02, 0.02, 0.02, 0.02, 0.02, 0.02, 0.02, 0.03];
const L20_UPPER = [0, 0, 0.63, 0.5, 0.42, 0.37, 0.33, 0.33, 0.4, 0.37, 0.36, 0.37, 0.37,
  0.35, 0.34, 0.33, 0.32, 0.31, 0.3, 0.31, 0.31, 0.32, 0.32, 0.32, 0.31, 0.31,
  0.31, 0.31, 0.31, 0.31, 0.31, 0.31, 0.31, 0.31, 0.31, 0.31, 0.31, 0.31, 0.31,
  0.31, 0.3, 0.3, 0.3, 0.3, 0.3, 0.29, 0.29, 0.29, 0.29, 0.28, 0.28, 0.29];
const L20_LOWER = [0, 0, -0.55, -0.47, -0.4, -0.35, -0.32, -0.33, -0.4, -0.37, -0.36, -0.37, -0.37,
  -0.35, -0.34, -0.33, -0.32, -0.31, -0.3, -0.31, -0.31, -0.32, -0.32, -0.32, -0.32, -0.32,
  -0.31, -0.31, -0.31, -0.31, -0.31, -0.31, -0.31, -0.31, -0.31, -0.31, -0.3, -0.3, -0.3,
  -0.3, -0.3, -0.3, -0.3, -0.3, -0.3, -0.29, -0.29, -0.29, -0.28, -0.28, -0.28, -0.29];

const L21_BETA = [-0.12, -0.12, 0.14, 0.1, 0.05, 0.04, 0.04, 0.045, 0.01, 0.045, 0.045, 0.0, 0.0,
  0.0, 0.0, 0.0, 0.005, 0.005, 0.0, 0.0, 0.005, -0.005, -0.015, -0.02, -0.02, -0.02,
  -0.015, -0.02, -0.015, -0.01, -0.01, 0.02, 0.045, 0.02, 0.025, 0.025, 0.02, 0.02, 0.015,
  0.015, 0.015, 0.015, 0.02, 0.02, 0.02, 0.025, 0.025, 0.025, 0.025, 0.025, 0.025, 0.03];
const L21_UPPER = [0, 0, 0.4, 0.3, 0.27, 0.22, 0.21, 0.24, 0.28, 0.29, 0.27, 0.3, 0.28,
  0.27, 0.26, 0.25, 0.24, 0.24, 0.24, 0.25, 0.25, 0.25, 0.26, 0.26, 0.25, 0.25,
  0.25, 0.25, 0.25, 0.26, 0.26, 0.26, 0.27, 0.26, 0.26, 0.26, 0.26, 0.26, 0.27,
  0.27, 0.27, 0.26, 0.26, 0.26, 0.26, 0.26, 0.25, 0.25, 0.25, 0.25, 0.25, 0.26];
const L21_LOWER = [0, 0, -0.3, -0.29, -0.27, -0.22, -0.21, -0.24, -0.28, -0.29, -0.27, -0.29, -0.28,
  -0.27, -0.26, -0.25, -0.24, -0.23, -0.25, -0.25, -0.25, -0.26, -0.25, -0.25, -0.25, -0.25,
  -0.25, -0.25, -0.26, -0.26, -0.26, -0.26, -0.27, -0.26, -0.26, -0.27, -0.27, -0.27, -0.27,
  -0.27, -0.26, -0.26, -0.26, -0.26, -0.26, -0.25, -0.25, -0.25, -0.25, -0.24, -0.24, -0.26];

const L22_BETA = [-0.24, -0.24, 0.08, 0.11, 0.05, 0.03, 0.03, 0.03, 0.0, 0.005, 0.0, 0.0, 0.0,
  0.0, 0.0, -0.005, 0.0, 0.0, -0.005, -0.005, 0.0, -0.01, -0.025, -0.03, -0.025, -0.02,
  -0.02, -0.02, -0.02, -0.02, -0.02, -0.025, -0.01, -0.005, 0.01, 0.015, 0.015, 0.01, 0.01,
  0.01, 0.01, 0.01, 0.01, 0.01, 0.01, 0.01, 0.01, 0.01, 0.01, 0.01, 0.01, 0.015];
const L22_UPPER = [0, 0, 0.5, 0.35, 0.32, 0.28, 0.25, 0.25, 0.3, 0.28, 0.26, 0.25, 0.24,
  0.23, 0.22, 0.22, 0.21, 0.21, 0.2, 0.22, 0.22, 0.22, 0.23, 0.22, 0.22, 0.22,
  0.22, 0.21, 0.21, 0.21, 0.21, 0.21, 0.21, 0.21, 0.2, 0.2, 0.2, 0.2, 0.2,
  0.2, 0.2, 0.2, 0.19, 0.19, 0.19, 0.19, 0.19, 0.19, 0.19, 0.18, 0.18, 0.21];
const L22_LOWER = [0, 0, -0.38, -0.35, -0.3, -0.27, -0.25, -0.25, -0.29, -0.28, -0.26, -0.25, -0.24,
  -0.23, -0.22, -0.22, -0.21, -0.21, -0.2, -0.22, -0.21, -0.22, -0.23, -0.22, -0.22, -0.22,
  -0.22, -0.21, -0.21, -0.21, -0.21, -0.21, -0.21, -0.21, -0.2, -0.2, -0.2, -0.2, -0.2,
  -0.2, -0.2, -0.2, -0.19, -0.19, -0.19, -0.19, -0.19, -0.19, -0.18, -0.18, -0.18, -0.2];

const L23_BETA = [-0.08, -0.08, 0.24, 0.02, -0.01, 0.0, 0.0, 0.005, 0.0, 0.0, -0.005, 0.0, 0.0,
  0.0, 0.0, 0.0, 0.0, 0.0, 0.0, 0.0, 0.0, 0.0, 0.0, 0.005, 0.0, 0.0,
  0.0, 0.0, 0.0, 0.0, 0.0, 0.0, 0.0, 0.0, 0.005, 0.005, 0.005, 0.005, 0.005,
  0.005, 0.005, 0.005, 0.005, 0.005, 0.005, 0.005, 0.005, 0.005, 0.005, 0.005, 0.005, 0.005];
const L23_UPPER = [0, 0, 0.5, 0.36, 0.3, 0.26, 0.24, 0.23, 0.22, 0.21, 0.2, 0.19, 0.18,
  0.18, 0.17, 0.17, 0.17, 0.16, 0.16, 0.15, 0.15, 0.15, 0.14, 0.14, 0.14, 0.14,
  0.13, 0.13, 0.13, 0.13, 0.12, 0.12, 0.12, 0.12, 0.12, 0.12, 0.11, 0.11, 0.11,
  0.11, 0.11, 0.11, 0.11, 0.1, 0.1, 0.1, 0.1, 0.1, 0.1, 0.09, 0.09, 0.09];
const L23_LOWER = [0, 0, -0.38, -0.35, -0.3, -0.26, -0.24, -0.23, -0.21, -0.2, -0.19, -0.18, -0.18,
  -0.17, -0.17, -0.16, -0.16, -0.16, -0.15, -0.15, -0.15, -0.14, -0.14, -0.14, -0.14, -0.13,
  -0.13, -0.13, -0.13, -0.12, -0.12, -0.12, -0.12, -0.12, -0.12, -0.11, -0.11, -0.11, -0.11,
  -0.11, -0.11, -0.11, -0.1, -0.1, -0.1, -0.1, -0.1, -0.1, -0.1, -0.1, -0.1, -0.1];

// L24 is numerically tiny: values are in tick units (all labels print as 0.0000000)
const L24_BETA = [0.0, 0.0, 1.5, 0.15, 0.0, 0.1, 0.05, 0.03, -0.02, -0.03, -0.02, 0.0, 0.0,
  0.0, 0.0, 0.02, 0.02, 0.0, -0.02, -0.02, 0.03, 0.03, 0.04, 0.02, 0.03, 0.05,
  0.05, 0.05, 0.05, 0.05, 0.05, 0.05, 0.05, 0.05, 0.07, 0.07, 0.07, 0.07, 0.07,
  0.07, 0.07, 0.07, 0.07, 0.07, 0.07, 0.07, 0.07, 0.07, 0.07, 0.07, 0.07, 0.07];
const L24_UPPER = [0, 0, 2.3, 2.05, 1.65, 1.38, 1.3, 1.25, 1.2, 1.12, 1.05, 1.0, 1.0,
  0.99, 0.97, 0.96, 0.95, 0.94, 0.92, 0.91, 0.9, 0.88, 0.87, 0.86, 0.85, 0.84,
  0.82, 0.81, 0.8, 0.79, 0.78, 0.77, 0.76, 0.75, 0.74, 0.73, 0.72, 0.71, 0.7,
  0.7, 0.69, 0.68, 0.67, 0.67, 0.66, 0.65, 0.65, 0.64, 0.63, 0.62, 0.61, 0.6];
const L24_LOWER = [0, 0, -2.2, -2.0, -1.55, -1.35, -1.25, -1.18, -1.15, -1.1, -1.02, -1.0, -0.99,
  -0.98, -0.97, -0.96, -0.95, -0.93, -0.92, -0.91, -0.89, -0.88, -0.87, -0.86, -0.85, -0.84,
  -0.82, -0.81, -0.8, -0.79, -0.78, -0.77, -0.76, -0.75, -0.74, -0.73, -0.72, -0.71, -0.7,
  -0.7, -0.69, -0.68, -0.67, -0.66, -0.66, -0.65, -0.64, -0.63, -0.62, -0.61, -0.6, -0.58];

type PanelDef = {
  name: string;
  beta: number[];
  upper: number[];
  lower: number[];
  yTicks: number[];
  yWidth: number;
  decimals: number;
  negZero?: boolean;
  tiny?: boolean;
  legendW?: number;
};

// column-major: L1..L6 in the first column, etc.
const PANELS: PanelDef[] = [
  { name: "L1", beta: L1_BETA, upper: L1_UPPER, lower: L1_LOWER, yTicks: R_2_4, yWidth: 29.3, decimals: 0 },
  { name: "L2", beta: L2_BETA, upper: L2_UPPER, lower: L2_LOWER, yTicks: R_15_30, yWidth: 39, decimals: 1 },
  { name: "L3", beta: L3_BETA, upper: L3_UPPER, lower: L3_LOWER, yTicks: R_15_30, yWidth: 38.5, decimals: 1 },
  { name: "L4", beta: L4_BETA, upper: L4_UPPER, lower: L4_LOWER, yTicks: R_10_25, yWidth: 39, decimals: 1 },
  { name: "L5", beta: L5_BETA, upper: L5_UPPER, lower: L5_LOWER, yTicks: R_10_25, yWidth: 39, decimals: 1 },
  { name: "L6", beta: L6_BETA, upper: L6_UPPER, lower: L6_LOWER, yTicks: R_15_25, yWidth: 38.5, decimals: 1 },
  { name: "L7", beta: L7_BETA, upper: L7_UPPER, lower: L7_LOWER, yTicks: R_15_25, yWidth: 38, decimals: 1 },
  { name: "L8", beta: L8_BETA, upper: L8_UPPER, lower: L8_LOWER, yTicks: R_10_25, yWidth: 39, decimals: 1 },
  { name: "L9", beta: L9_BETA, upper: L9_UPPER, lower: L9_LOWER, yTicks: R_10_15, yWidth: 39, decimals: 1 },
  { name: "L10", beta: L10_BETA, upper: L10_UPPER, lower: L10_LOWER, yTicks: R_10_20, yWidth: 39, decimals: 1 },
  { name: "L11", beta: L11_BETA, upper: L11_UPPER, lower: L11_LOWER, yTicks: R_075_125, yWidth: 44, decimals: 2 },
  { name: "L12", beta: L12_BETA, upper: L12_UPPER, lower: L12_LOWER, yTicks: R_075_125, yWidth: 44, decimals: 2 },
  { name: "L13", beta: L13_BETA, upper: L13_UPPER, lower: L13_LOWER, yTicks: R_15_15, yWidth: 38.5, decimals: 1 },
  { name: "L14", beta: L14_BETA, upper: L14_UPPER, lower: L14_LOWER, yTicks: R_15_15, yWidth: 38.5, decimals: 1 },
  { name: "L15", beta: L15_BETA, upper: L15_UPPER, lower: L15_LOWER, yTicks: R_100_100, yWidth: 45, decimals: 2 },
  { name: "L16", beta: L16_BETA, upper: L16_UPPER, lower: L16_LOWER, yTicks: R_100_100, yWidth: 45, decimals: 2 },
  { name: "L17", beta: L17_BETA, upper: L17_UPPER, lower: L17_LOWER, yTicks: R_100_100, yWidth: 45, decimals: 2 },
  { name: "L18", beta: L18_BETA, upper: L18_UPPER, lower: L18_LOWER, yTicks: R_075_075, yWidth: 40, decimals: 2 },
  { name: "L19", beta: L19_BETA, upper: L19_UPPER, lower: L19_LOWER, yTicks: R_08_08, yWidth: 39.5, decimals: 1, negZero: true },
  { name: "L20", beta: L20_BETA, upper: L20_UPPER, lower: L20_LOWER, yTicks: R_075_075, yWidth: 45.5, decimals: 2 },
  { name: "L21", beta: L21_BETA, upper: L21_UPPER, lower: L21_LOWER, yTicks: R_04_04, yWidth: 39.5, decimals: 1, negZero: true },
  { name: "L22", beta: L22_BETA, upper: L22_UPPER, lower: L22_LOWER, yTicks: R_050_050, yWidth: 45.5, decimals: 2 },
  { name: "L23", beta: L23_BETA, upper: L23_UPPER, lower: L23_LOWER, yTicks: R_050_050, yWidth: 45.5, decimals: 2 },
  { name: "L24", beta: L24_BETA, upper: L24_UPPER, lower: L24_LOWER, yTicks: R_3_3, yWidth: 74.8, decimals: 7, tiny: true, legendW: 92 },
];

const COL_W = 455.4;
const ROW_H = 191.8;
const PANEL_W = 455;
const PLOT_TOP = 20.7;
const X_AXIS_H = 18.5;
const LEGEND_H = 20;

function YearTick(props: any) {
  const { x, y, payload } = props;
  const k = YEAR_TICKS.indexOf(payload.value);
  const label = k >= 0 ? YEAR_LABELS[k] : "";
  return (
    <g>
      {label && (
        <text x={x + 1.5} y={y} dy={5} textAnchor="start" fontSize={8} fill="#222" fontFamily={FONT}>
          {label}
        </text>
      )}
    </g>
  );
}

function LegendBox({ width }: { width: number }) {
  return (
    <svg width={width} height={LEGEND_H} style={{ display: "block" }}>
      <rect x={0.5} y={0.5} width={width - 1} height={LEGEND_H - 1} fill="#fff" stroke="#000" strokeWidth={1} />
      {SERIES.map((s, k) => {
        const cy = 3.5 + 6 * k;
        return (
          <g key={s.key}>
            <line x1={13} x2={46} y1={cy} y2={cy} stroke="#000"
              strokeWidth={s.dotted ? 2.6 : 2.4} strokeDasharray={s.dotted ? "2.6 2.6" : undefined} />
            <text x={60} y={cy} dy={2} fontSize={5.6} fill="#555" fontFamily={FONT}>{s.name}</text>
          </g>
        );
      })}
    </svg>
  );
}

function Panel({ p, col, row }: { p: PanelDef; col: number; row: number }) {
  const data = p.beta.map((v, i) => ({ q: i, beta: v, upper: p.upper[i], lower: p.lower[i] }));
  const yMin = p.yTicks[0];
  const yMax = p.yTicks[p.yTicks.length - 1];
  const fmt = (v: number) => {
    if (p.tiny) return v < 0 ? "-0.0000000" : "0.0000000";
    if (v === 0 && p.negZero) return "-0.0";
    return v.toFixed(p.decimals);
  };
  const legendW = p.legendW ?? 102;

  return (
    <div style={{ position: "absolute", left: col * COL_W, top: row * ROW_H, width: PANEL_W, height: ROW_H }}>
      <LineChart width={PANEL_W} height={ROW_H} data={data}
        margin={{ top: PLOT_TOP, right: 13.3, bottom: 0, left: 0 }}>
        <XAxis dataKey="q" type="number" domain={X_DOMAIN} ticks={YEAR_TICKS} interval={0}
          allowDataOverflow height={X_AXIS_H} tickSize={3} tickMargin={2} tick={<YearTick />}
          axisLine={{ stroke: "#222" }} tickLine={{ stroke: "#222" }} />
        <YAxis type="number" domain={[yMin, yMax]} ticks={p.yTicks} interval={0} allowDataOverflow
          width={p.yWidth} tickSize={4} tickMargin={2} tickFormatter={fmt}
          tick={{ fontSize: 8.5, fill: "#222", fontFamily: FONT }}
          axisLine={{ stroke: "#222" }} tickLine={{ stroke: "#222" }} />
        <ReferenceArea x1={X_DOMAIN[0]} x2={X_DOMAIN[1]} y1={yMin} y2={yMax}
          fill="none" fillOpacity={0} stroke="#222" strokeWidth={1} />
        <ReferenceLine y={0} stroke="#000" strokeWidth={1} />
        {SERIES.map((s) => (
          <Line key={s.key} type="linear" dataKey={s.key} name={s.name} stroke="#000"
            strokeWidth={s.dotted ? 2.8 : 2.5}
            strokeDasharray={s.dotted ? "2.8 2.6" : undefined}
            strokeLinejoin="miter" dot={false} activeDot={false} isAnimationActive={false} />
        ))}
        <Legend layout="horizontal" verticalAlign="middle" align="center"
          content={() => <LegendBox width={legendW} />}
          wrapperStyle={{ left: p.yWidth, top: PLOT_TOP + (ROW_H - PLOT_TOP - X_AXIS_H) - LEGEND_H, width: legendW, height: LEGEND_H }} />
      </LineChart>
      <div style={{
        position: "absolute", left: 0, top: 7.9, width: PANEL_W - 6, textAlign: "center",
        fontFamily: FONT, fontWeight: 700, fontSize: 12.5, lineHeight: "12.5px", color: "#000",
      }}>
        {p.name}
      </div>
    </div>
  );
}

export default function App() {
  return (
    <div style={{ position: "absolute", left: 0, top: 0, width: 1820, height: 1143, background: "#fff", overflow: "hidden" }}>
      {PANELS.map((p, n) => (
        <Panel key={p.name} p={p} col={Math.floor(n / 6)} row={n % 6} />
      ))}
    </div>
  );
}
